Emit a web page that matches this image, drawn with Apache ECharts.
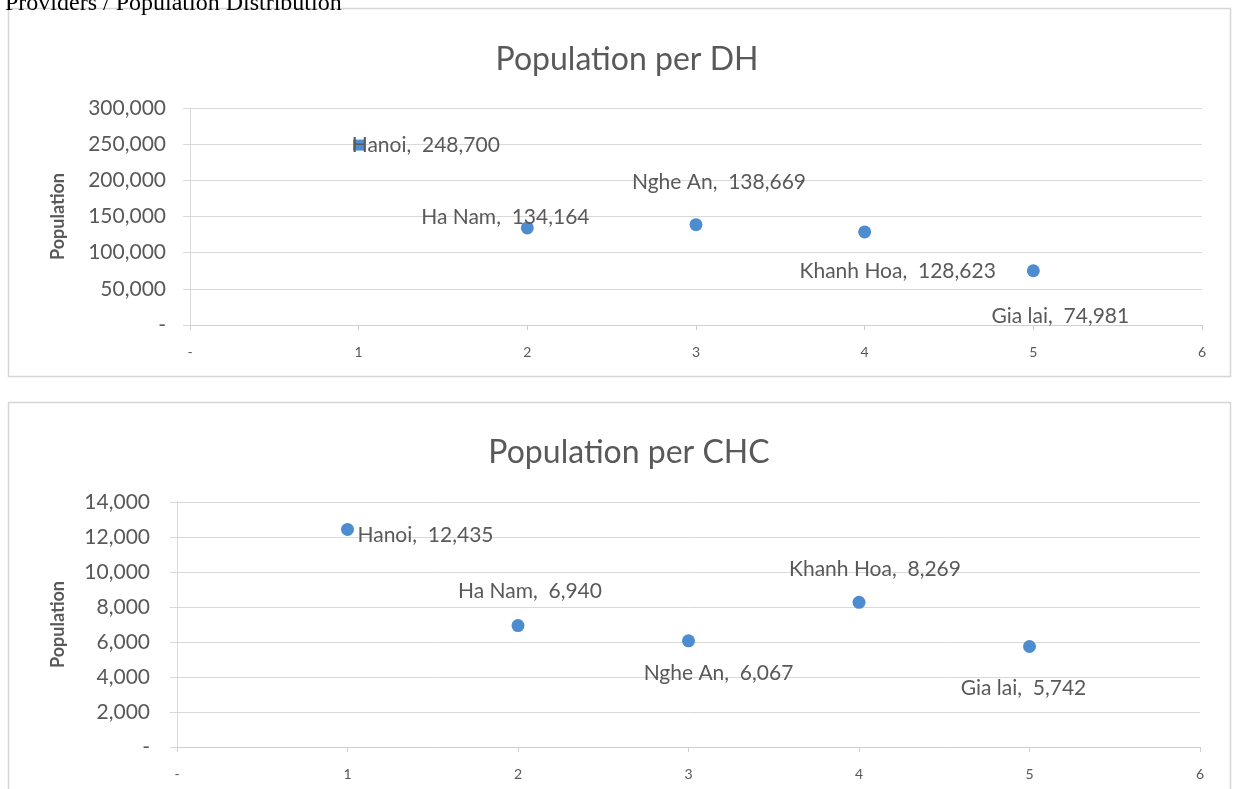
<!DOCTYPE html>
<html>
<head>
<meta charset="utf-8">
<title>Providers / Population Distribution</title>
<script src="https://cdn.jsdelivr.net/npm/echarts@6/dist/echarts.min.js"></script>
<style>
  html, body { margin: 0; padding: 0; background: #ffffff; }
  #chart { width: 1234px; height: 789px; }
</style>
</head>
<body>
<div id="chart"></div>
<script>
// Provinces and their index on the x axis
const provinces = ['Hanoi', 'Ha Nam', 'Nghe An', 'Khanh Hoa', 'Gia lai'];
const provinceIndex = [1, 2, 3, 4, 5];

// Population served per district hospital (DH) and per commune health centre (CHC)
const popPerDH = [248700, 134164, 138669, 128623, 74981];
const popPerCHC = [12435, 6940, 6067, 8269, 5742];

// Axis ranges and steps
const xRange = [0, 6, 1];
const dhRange = [0, 300000, 50000];
const chcRange = [0, 14000, 2000];

// Where each value label sits relative to its point (pixels)
const dhLabelPlace = [
  { align: 'left', dx: -7, dy: 0 },
  { align: 'center', dx: -22, dy: -11 },
  { align: 'center', dx: 23, dy: -42 },
  { align: 'center', dx: 33, dy: 39 },
  { align: 'center', dx: 27, dy: 45 }
];
const chcLabelPlace = [
  { align: 'left', dx: 10, dy: 6 },
  { align: 'center', dx: 12, dy: -34 },
  { align: 'center', dx: 30, dy: 32 },
  { align: 'center', dx: 16, dy: -33 },
  { align: 'center', dx: -6, dy: 42 }
];

const FONT = 'Lato, "Open Sans", sans-serif';
const TEXT = '#595959';
const GRID_LINE = '#d9d9d9';
const DOT = '#4d8dcf';

const fmt = v => (v === 0 ? '-' : v.toLocaleString('en-US'));

function points(values, place, squareFirst) {
  return values.map((v, i) => ({
    name: provinces[i],
    value: [provinceIndex[i], v],
    symbol: squareFirst && i === 0 ? 'rect' : 'circle',
    symbolSize: squareFirst && i === 0 ? 11 : 13,
    label: {
      align: place[i].align,
      offset: [place[i].dx, place[i].dy]
    }
  }));
}

function xAxis(gridIndex) {
  return {
    type: 'value', gridIndex,
    min: xRange[0], max: xRange[1], interval: xRange[2],
    axisLine: { show: true, onZero: false, lineStyle: { color: '#cfcfcf', width: 1 } },
    axisTick: { show: true, length: 5, lineStyle: { color: '#cfcfcf' } },
    splitLine: { show: false },
    axisLabel: { formatter: fmt, color: TEXT, fontFamily: FONT, fontSize: 14, margin: 20 }
  };
}

function yAxis(gridIndex, range, margin, nameGap) {
  return {
    type: 'value', gridIndex,
    min: range[0], max: range[1], interval: range[2],
    name: 'Population', nameLocation: 'middle', nameGap,
    nameTextStyle: { color: TEXT, fontFamily: FONT, fontSize: 18, fontWeight: 'bold' },
    axisLine: { show: true, lineStyle: { color: GRID_LINE, width: 1 } },
    axisTick: { show: true, length: 7, lineStyle: { color: GRID_LINE } },
    splitLine: { show: true, lineStyle: { color: GRID_LINE, width: 1 } },
    axisLabel: { formatter: fmt, color: TEXT, fontFamily: FONT, fontSize: 21, margin }
  };
}

function series(gridIndex, values, place, squareFirst) {
  return {
    type: 'scatter', xAxisIndex: gridIndex, yAxisIndex: gridIndex,
    itemStyle: { color: DOT, opacity: 1 },
    label: {
      show: true, position: 'inside',
      formatter: p => p.name + ',  ' + p.value[1].toLocaleString('en-US'),
      color: TEXT, fontFamily: FONT, fontSize: 21, verticalAlign: 'middle'
    },
    emphasis: { disabled: true },
    data: points(values, place, squareFirst),
    z: 3
  };
}

const chart = echarts.init(document.getElementById('chart'), null, { renderer: 'canvas' });

chart.setOption({
  animation: false,
  backgroundColor: '#ffffff',
  title: [
    { text: 'Population per DH', left: 622, top: 55, textAlign: 'center', textVerticalAlign: 'middle',
      textStyle: { color: TEXT, fontFamily: FONT, fontSize: 32, fontWeight: 'normal' } },
    { text: 'Population per CHC', left: 624, top: 448, textAlign: 'center', textVerticalAlign: 'middle',
      textStyle: { color: TEXT, fontFamily: FONT, fontSize: 32, fontWeight: 'normal' } }
  ],
  graphic: [
    { type: 'text', left: 5, top: -8, z: 10,
      style: { text: 'Providers / Population Distribution', fill: '#000000',
               font: '24px "Liberation Serif", "Times New Roman", serif' } },
    { type: 'rect', shape: { x: 8.5, y: 8.5, width: 1222, height: 368 }, z: -1,
      style: { fill: '#ffffff', stroke: '#d6d6d6', lineWidth: 1.5 } },
    { type: 'rect', shape: { x: 8.5, y: 402.5, width: 1222, height: 420 }, z: -1,
      style: { fill: '#ffffff', stroke: '#d6d6d6', lineWidth: 1.5 } }
  ],
  grid: [
    { left: 190, right: 32, top: 108, height: 217, containLabel: false },
    { left: 177, right: 34, top: 502, height: 245, containLabel: false }
  ],
  xAxis: [xAxis(0), xAxis(1)],
  yAxis: [yAxis(0, dhRange, 24, 123), yAxis(1, chcRange, 27, 110)],
  series: [
    series(0, popPerDH, dhLabelPlace, true),
    series(1, popPerCHC, chcLabelPlace, false)
  ]
});
</script>
</body>
</html>
